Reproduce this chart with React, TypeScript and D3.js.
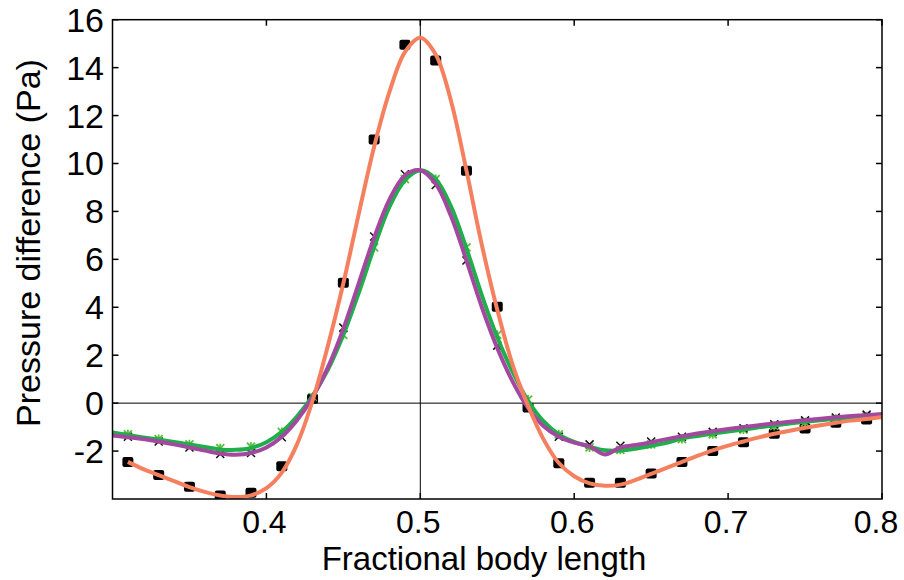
import React from 'react';
import * as d3 from 'd3';

// sampled fitted curves (x = fractional body length)
const curveX = [
  0.30, 0.31, 0.32, 0.33, 0.34, 0.35, 0.36, 0.37, 0.38, 0.39,
  0.40, 0.41, 0.42, 0.43, 0.44, 0.45, 0.46, 0.47, 0.48, 0.49,
  0.50, 0.51, 0.52, 0.53, 0.54, 0.55, 0.56, 0.57, 0.58, 0.59,
  0.60, 0.61, 0.62, 0.63, 0.64, 0.65, 0.66, 0.67, 0.68, 0.69,
  0.70, 0.71, 0.72, 0.73, 0.74, 0.75, 0.76, 0.77, 0.78, 0.79, 0.80,
];
const orangeCurve = [
  null, -2.45, -2.75, -3.0, -3.25, -3.5, -3.7, -3.85, -3.92, -3.85,
  -3.55, -2.9, -1.7, 0.1, 2.4, 5.0, 7.9, 10.7, 13.0, 14.65,
  15.25, 14.55, 12.6, 9.7, 6.6, 3.9, 1.6, -0.1, -1.5, -2.5,
  -3.05, -3.35, -3.45, -3.4, -3.2, -2.95, -2.7, -2.45, -2.2, -1.97,
  -1.77, -1.6, -1.43, -1.28, -1.15, -1.03, -0.92, -0.82, -0.73, -0.66, -0.58,
];
const greenCurve = [
  -1.22, -1.33, -1.43, -1.52, -1.62, -1.72, -1.83, -1.93, -1.95, -1.87,
  -1.63, -1.2, -0.55, 0.3, 1.4, 2.85, 4.6, 6.5, 8.2, 9.3,
  9.72, 9.35, 8.2, 6.45, 4.5, 2.75, 1.3, 0.1, -0.75, -1.3,
  -1.62, -1.82, -1.97, -1.98, -1.9, -1.78, -1.65, -1.48, -1.37, -1.27,
  -1.18, -1.1, -1.01, -0.93, -0.85, -0.78, -0.71, -0.65, -0.6, -0.55, -0.5,
];
const purpleCurve = [
  -1.35, -1.42, -1.5, -1.6, -1.72, -1.85, -1.98, -2.1, -2.15, -2.08,
  -1.85, -1.4, -0.7, 0.25, 1.5, 3.1, 5.0, 6.9, 8.5, 9.5,
  9.72, 9.15, 7.8, 5.95, 4.0, 2.3, 0.9, -0.2, -0.95, -1.4,
  -1.65, -1.8, -2.14, -1.85, -1.75, -1.63, -1.5, -1.38, -1.27, -1.17,
  -1.08, -1.0, -0.92, -0.85, -0.78, -0.71, -0.65, -0.59, -0.54, -0.5, -0.45,
];

// measured points
const pointX = [
  0.31, 0.33, 0.35, 0.37, 0.39, 0.41, 0.43, 0.45, 0.47, 0.49, 0.51, 0.53, 0.55,
  0.57, 0.59, 0.61, 0.63, 0.65, 0.67, 0.69, 0.71, 0.73, 0.75, 0.77, 0.79,
];
const squarePoints = [
  -2.46, -3.0, -3.49, -3.85, -3.74, -2.63, 0.18, 5.02, 11.0, 14.95, 14.3, 9.7, 4.02,
  -0.18, -2.51, -3.32, -3.32, -2.94, -2.46, -2.0, -1.63, -1.28, -1.06, -0.82, -0.68,
];
const greenPoints = [
  -1.3, -1.5, -1.72, -1.88, -1.82, -1.2, 0.25, 2.85, 6.5, 9.35, 9.35, 6.5, 2.85,
  0.15, -1.3, -1.85, -1.95, -1.72, -1.5, -1.3, -1.1, -0.95, -0.8, -0.65, -0.55,
];
const crossPoints = [
  -1.4, -1.6, -1.85, -2.12, -2.08, -1.42, 0.2, 3.15, 6.95, 9.55, 9.1, 5.95, 2.4,
  -0.2, -1.4, -1.72, -1.78, -1.6, -1.4, -1.2, -1.05, -0.88, -0.72, -0.6, -0.48,
];

const xTicks = [0.4, 0.5, 0.6, 0.7, 0.8];
const yTicks = [-2, 0, 2, 4, 6, 8, 10, 12, 14, 16];

const W = 904;
const H = 580;
const left = 112.5, right = 882, top = 19.7, bottom = 499;
const font = 'Liberation Sans, Arial, Helvetica, sans-serif';

export default function App() {
  const x = d3.scaleLinear().domain([0.3, 0.8]).range([left, right]);
  const y = d3.scaleLinear().domain([-4, 16]).range([bottom, top]);

  const line = d3.line<[number, number | null]>()
    .defined(d => d[1] !== null)
    .x(d => x(d[0]))
    .y(d => y(d[1] as number))
    .curve(d3.curveCatmullRom);

  const mk = (vals: (number | null)[]) => curveX.map((cx, i) => [cx, vals[i]] as [number, number | null]);

  return (
    <svg width={W} height={H} style={{ position: 'absolute', left: 0, top: 0, background: '#fff' }}>
      <rect x={0} y={0} width={W} height={H} fill="#fff" />
      <defs>
        <clipPath id="plot">
          <rect x={left} y={top} width={right - left} height={bottom - top} />
        </clipPath>
      </defs>

      {/* reference lines */}
      <line x1={left} x2={right} y1={y(0)} y2={y(0)} stroke="#000" strokeWidth={1} />
      <line x1={x(0.5)} x2={x(0.5)} y1={top} y2={bottom} stroke="#000" strokeWidth={1} />

      <g clipPath="url(#plot)">
        {/* markers */}
        {pointX.map((px, i) => (
          <rect key={'s' + i} x={x(px) - 5.5} y={y(squarePoints[i]) - 5} width={11} height={10} rx={2} fill="#000" />
        ))}
        {pointX.map((px, i) => {
          const cx = x(px), cy = y(greenPoints[i]);
          return (
            <path key={'g' + i}
              d={`M${cx - 4},${cy - 4}L${cx + 4},${cy + 4}M${cx - 4},${cy + 4}L${cx + 4},${cy - 4}M${cx},${cy - 4.5}L${cx},${cy + 4.5}`}
              stroke="#5bbf3a" strokeWidth={1.8} fill="none" />
          );
        })}
        {pointX.map((px, i) => {
          const cx = x(px), cy = y(crossPoints[i]);
          return (
            <path key={'c' + i}
              d={`M${cx - 4},${cy - 4}L${cx + 4},${cy + 4}M${cx - 4},${cy + 4}L${cx + 4},${cy - 4}`}
              stroke="#111" strokeWidth={1.5} fill="none" />
          );
        })}

        {/* fitted curves */}
        <path d={line(mk(greenCurve)) || ''} fill="none" stroke="#1fae4b" strokeWidth={4} />
        <path d={line(mk(purpleCurve)) || ''} fill="none" stroke="#a2489f" strokeWidth={4} />
        <path d={line(mk(orangeCurve)) || ''} fill="none" stroke="#f5805f" strokeWidth={4} />
      </g>

      {/* axes box */}
      <rect x={left} y={top} width={right - left} height={bottom - top} fill="none" stroke="#000" strokeWidth={1.5} />
      {xTicks.map(t => (
        <g key={'xt' + t}>
          <line x1={x(t)} x2={x(t)} y1={bottom} y2={bottom - 6} stroke="#000" strokeWidth={1.5} />
          <line x1={x(t)} x2={x(t)} y1={top} y2={top + 6} stroke="#000" strokeWidth={1.5} />
          <text x={x(t) - (t === 0.8 ? 6 : 2)} y={533} textAnchor="middle" fontFamily={font} fontSize={32}>{t.toFixed(1)}</text>
        </g>
      ))}
      {yTicks.map(t => (
        <g key={'yt' + t}>
          <line x1={left} x2={left + 6} y1={y(t)} y2={y(t)} stroke="#000" strokeWidth={1.5} />
          <line x1={right} x2={right - 6} y1={y(t)} y2={y(t)} stroke="#000" strokeWidth={1.5} />
          <text x={104} y={y(t) + 12} textAnchor="end" fontFamily={font} fontSize={34}>{t}</text>
        </g>
      ))}

      <text x={484} y={570} textAnchor="middle" fontFamily={font} fontSize={33}>Fractional body length</text>
      <text transform={`translate(40,243) rotate(-90)`} textAnchor="middle" fontFamily={font} fontSize={34}>Pressure difference (Pa)</text>
    </svg>
  );
}
